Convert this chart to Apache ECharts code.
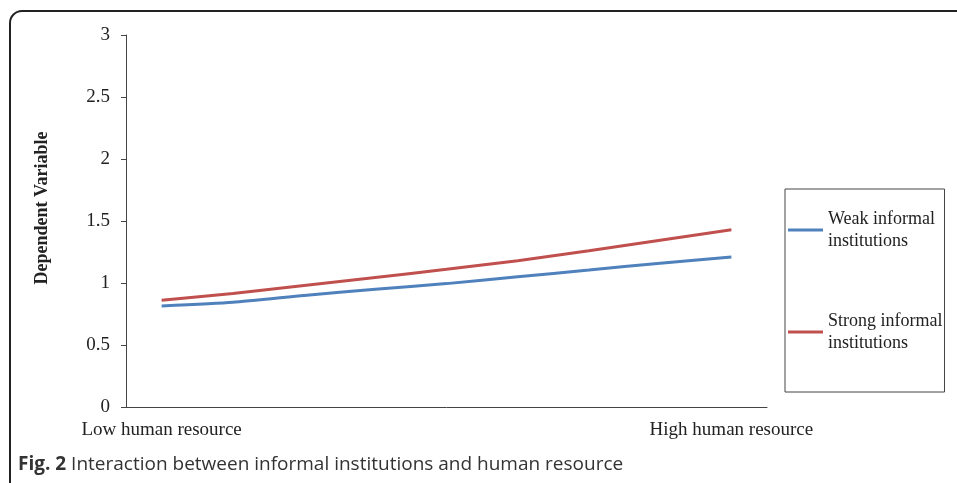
<!DOCTYPE html>
<html>
<head>
<meta charset="utf-8">
<script src="https://cdn.jsdelivr.net/npm/echarts@6/dist/echarts.min.js"></script>
<style>
html,body{margin:0;padding:0;background:#fff;}
#chart{width:957px;height:483px;}
</style>
</head>
<body>
<div id="chart"></div>
<script>
const categories = ["Low human resource", "", "", "", "", "", "", "", "High human resource"];
const weakValues = [0.815, 0.845, 0.90, 0.95, 0.995, 1.05, 1.105, 1.16, 1.21];
const strongValues = [0.86, 0.915, 0.98, 1.045, 1.11, 1.18, 1.26, 1.345, 1.43];
const seriesNames = ["Weak informal\ninstitutions", "Strong informal\ninstitutions"];
const yAxisTitle = "Dependent Variable";
const captionBold = "Fig. 2";
const captionText = " Interaction between informal institutions and human resource";

const chart = echarts.init(document.getElementById('chart'), null, {renderer: 'canvas'});
const serif = '"Liberation Serif", "DejaVu Serif", serif';
chart.setOption({
  animation: false,
  backgroundColor: '#fff',
  grid: {left: 126, top: 35, width: 641, height: 372, containLabel: false},
  xAxis: {
    type: 'category',
    data: categories,
    boundaryGap: true,
    axisLine: {lineStyle: {color: '#444', width: 1}},
    axisTick: {show: false},
    axisLabel: {interval: 0, margin: 14, color: '#222', fontFamily: serif, fontSize: 19}
  },
  yAxis: {
    type: 'value',
    min: 0, max: 3, interval: 0.5,
    splitLine: {show: false},
    axisLine: {show: true, lineStyle: {color: '#444', width: 1}},
    axisTick: {show: true, length: 5, lineStyle: {color: '#444'}},
    axisLabel: {margin: 16, color: '#222', fontFamily: serif, fontSize: 19}
  },
  legend: {
    orient: 'vertical',
    left: 785, top: 189,
    padding: [8, 2, 27, 3],
    itemGap: 36,
    itemWidth: 35, itemHeight: 3,
    icon: 'rect',
    borderColor: '#444', borderWidth: 1,
    backgroundColor: '#fff',
    textStyle: {fontFamily: serif, fontSize: 18, color: '#222', lineHeight: 22, padding: [22, 0, 0, 0]},
    data: seriesNames
  },
  series: [
    {name: seriesNames[0], type: 'line', data: weakValues, smooth: 0.2, showSymbol: false,
     lineStyle: {color: '#4F81BD', width: 3}, itemStyle: {color: '#4F81BD'}},
    {name: seriesNames[1], type: 'line', data: strongValues, smooth: 0.2, showSymbol: false,
     lineStyle: {color: '#C0504D', width: 3}, itemStyle: {color: '#C0504D'}}
  ],
  graphic: [
    {type: 'rect', shape: {x: 10, y: 11, width: 1000, height: 600, r: [12, 0, 0, 0]},
     style: {fill: 'none', stroke: '#222', lineWidth: 2}, silent: true, z: -1},
    {type: 'text', x: 42, y: 208, rotation: Math.PI / 2,
     style: {text: yAxisTitle, font: 'bold 18px ' + serif, fill: '#222', textAlign: 'center', textVerticalAlign: 'middle'}},
    {type: 'text', x: 18, y: 465,
     style: {
       text: '{b|' + captionBold + '}{n|' + captionText + '}',
       textVerticalAlign: 'middle',
       rich: {
         b: {fontFamily: '"Open Sans", sans-serif', fontWeight: 'bold', fontSize: 19, fill: '#333'},
         n: {fontFamily: '"Open Sans", sans-serif', fontSize: 19, fill: '#333'}
       }
     }}
  ]
});
</script>
</body>
</html>
